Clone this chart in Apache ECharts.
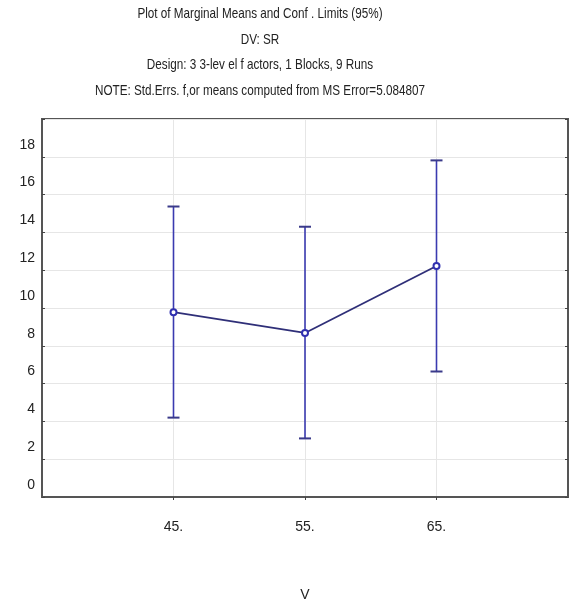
<!DOCTYPE html>
<html>
<head>
<meta charset="utf-8">
<script src="https://cdn.jsdelivr.net/npm/echarts@6/dist/echarts.min.js"></script>
<style>html,body{margin:0;padding:0;background:#fff;}#c{width:572px;height:605px;}</style>
</head>
<body>
<div id="c"></div>
<script>
var titleLines = [
  'Plot of Marginal Means and Conf . Limits (95%)',
  'DV: SR',
  'Design: 3 3-lev el f actors, 1 Blocks, 9 Runs',
  'NOTE: Std.Errs. f,or means computed from MS Error=5.084807'
];
var xName = 'V';
var levels = [45, 55, 65];
var means = [9.78, 8.68, 12.22];
var lowerCL = [4.20, 3.10, 6.64];
var upperCL = [15.37, 14.30, 17.81];
var yTicks = [0, 2, 4, 6, 8, 10, 12, 14, 16, 18];

var FONT = "'Liberation Sans Narrow', 'Arial Narrow', 'Liberation Sans', Arial, sans-serif";
var chart = echarts.init(document.getElementById('c'));

var titleY = [14, 40, 65, 91];
var titleGraphics = titleLines.map(function (t, i) {
  return {
    type: 'text', x: 260, y: titleY[i], scaleX: 0.78, silent: true,
    style: { text: t, fill: '#222', font: '15px ' + FONT, textAlign: 'center', textVerticalAlign: 'middle' }
  };
});

var meanData = levels.map(function (x, i) { return [x, means[i]]; });
var errData = levels.map(function (x, i) { return [x, lowerCL[i], upperCL[i]]; });

chart.setOption({
  animation: false,
  backgroundColor: '#fff',
  graphic: titleGraphics,
  grid: { left: 42, top: 119, right: 4, bottom: 108, outerBoundsMode: 'none', containLabel: false,
    show: true, borderColor: '#555', borderWidth: 2, backgroundColor: '#fff' },
  xAxis: [{
    type: 'value', min: 35, max: 75, position: 'bottom',
    name: xName, nameLocation: 'middle', nameGap: 91,
    nameTextStyle: { fontFamily: FONT, fontSize: 14, color: '#222' },
    axisLine: { show: true, onZero: false, lineStyle: { color: '#555', width: 2 } },
    axisTick: { show: false, customValues: levels },
    axisLabel: { customValues: levels, formatter: function (v) { return v + '.'; }, margin: 23,
      fontFamily: FONT, fontSize: 14, color: '#222' },
    splitLine: { show: true, lineStyle: { color: '#e6e6e6', width: 1 } }
  }, {
    type: 'value', min: 35, max: 75, position: 'top',
    axisLine: { show: false },
    axisTick: { show: true, inside: true, length: 3, customValues: levels, lineStyle: { color: '#444' } },
    axisLabel: { show: false, customValues: levels },
    splitLine: { show: false }
  }],
  yAxis: [{
    type: 'value', min: 0, max: 20, interval: 2,
    axisLine: { show: true, onZero: false, lineStyle: { color: '#555', width: 2 } },
    axisTick: { show: true, inside: true, length: 3, lineStyle: { color: '#444' } },
    axisLabel: {
      fontFamily: FONT, fontSize: 14, color: '#222', margin: 7, verticalAlign: 'bottom', padding: [0, 0, 5, 0],
      formatter: function (v) { return yTicks.indexOf(v) >= 0 ? String(v) : ''; }
    },
    splitLine: { show: true, lineStyle: { color: '#e6e6e6', width: 1 } }
  }, {
    type: 'value', min: 0, max: 20, interval: 2, position: 'right',
    axisLine: { show: false },
    axisTick: { show: true, inside: true, length: 3, lineStyle: { color: '#444' } },
    axisLabel: { show: false },
    splitLine: { show: false }
  }],
  series: [{
    type: 'custom',
    data: errData,
    z: 3,
    renderItem: function (params, api) {
      var x = api.value(0);
      var lo = api.coord([x, api.value(1)]);
      var hi = api.coord([x, api.value(2)]);
      var w = 6;
      var st = { stroke: '#3a3ab0', lineWidth: 1.6 };
      var capSt = { stroke: '#3a3a8a', lineWidth: 2 };
      return {
        type: 'group',
        children: [
          { type: 'line', shape: { x1: lo[0], y1: lo[1], x2: hi[0], y2: hi[1] }, style: st },
          { type: 'line', shape: { x1: lo[0] - w, y1: lo[1], x2: lo[0] + w, y2: lo[1] }, style: capSt },
          { type: 'line', shape: { x1: hi[0] - w, y1: hi[1], x2: hi[0] + w, y2: hi[1] }, style: capSt }
        ]
      };
    }
  }, {
    type: 'line',
    data: meanData,
    z: 4,
    symbol: 'emptyCircle',
    symbolSize: 6,
    lineStyle: { color: '#2f2f78', width: 1.8 },
    itemStyle: { color: '#3030b0', borderColor: '#3030b0', borderWidth: 1.5 }
  }]
});
</script>
</body>
</html>
